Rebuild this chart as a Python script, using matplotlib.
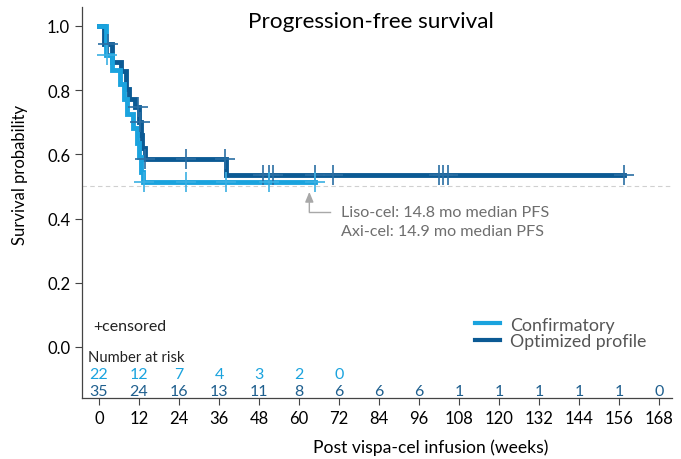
import numpy as np
import matplotlib
matplotlib.use("Agg")
import matplotlib.pyplot as plt

plt.rcParams['font.family'] = ['Lato', 'DejaVu Sans']

# Kaplan-Meier steps (weeks, survival)
conf_t = [0, 2.0, 3.8, 6.3, 7.6, 8.3, 10.3, 11.3, 12.0, 12.6, 13.2, 64.8]
conf_s = [1.0, 0.909, 0.864, 0.818, 0.773, 0.727, 0.682, 0.636, 0.591, 0.545, 0.514, 0.514]
opt_t = [0, 1.5, 3.9, 6.5, 8.0, 9.1, 10.8, 12.0, 12.5, 13.0, 13.8, 38.1, 157.5]
opt_s = [1.0, 0.943, 0.889, 0.861, 0.804, 0.773, 0.747, 0.70, 0.66, 0.62, 0.584, 0.537, 0.537]

# censoring times
conf_cens = [2.4, 13.4, 26.1, 38.1, 51.0, 64.8]
opt_cens = [2.8, 11.8, 12.2, 13.9, 26.1, 37.9, 49.1, 51.0, 52.3, 64.8, 70.1, 102.0, 103.3, 104.7, 157.5]

risk_weeks = [0, 12, 24, 36, 48, 60, 72, 84, 96, 108, 120, 132, 144, 156, 168]
risk_conf = [22, 12, 7, 4, 3, 2, 0]
risk_opt = [35, 24, 16, 13, 11, 8, 6, 6, 6, 1, 1, 1, 1, 1, 0]

light = '#1aa3de'
dark = '#0b5a94'
gray = '#6e6e6e'


def step_at(ts, ss, t):
    i = np.searchsorted(ts, t, side='right') - 1
    return ss[max(i, 0)]


fig = plt.figure(figsize=(6.81, 4.60), dpi=100)
ax = fig.add_axes([0.1204, 0.1326, 0.8664, 0.8500])

ax.axhline(0.5, color='#d0d0d0', lw=0.8, ls=(0, (4, 3)), zorder=1)

ax.step(opt_t, opt_s, where='post', color=dark, lw=3.5, zorder=3, solid_joinstyle='miter')
ax.step(conf_t, conf_s, where='post', color=light, lw=3.5, zorder=4, solid_joinstyle='miter')

ax.plot(opt_cens, [step_at(opt_t, opt_s, t) for t in opt_cens], ls='none', marker='+',
        ms=15, mew=1.2, color='#2a6ea3', zorder=5)
ax.plot(conf_cens, [step_at(conf_t, conf_s, t) for t in conf_cens], ls='none', marker='+',
        ms=15, mew=1.2, color='#3bb0e3', zorder=5)

# median annotation
ax.annotate('', xy=(63.1, 0.483), xytext=(63.1, 0.421),
            arrowprops=dict(arrowstyle='-|>,head_width=0.25,head_length=0.6',
                            color='#a8a8a8', lw=1.0, shrinkA=0, shrinkB=0))
ax.plot([63.1, 69.3], [0.421, 0.421], color='#a8a8a8', lw=1.0)
ax.text(72.6, 0.421, 'Liso-cel: 14.8 mo median PFS', color=gray, fontsize=11.6, va='center')
ax.text(72.6, 0.361, 'Axi-cel: 14.9 mo median PFS', color=gray, fontsize=11.6, va='center')

# number at risk
ax.text(-3.2, -0.031, 'Number at risk', fontsize=10.6, va='center', color='#222222')
for w, n in zip(risk_weeks, risk_conf):
    ax.text(w, -0.083, str(n), color=light, fontsize=11.5, ha='center', va='center')
for w, n in zip(risk_weeks, risk_opt):
    ax.text(w, -0.137, str(n), color='#1f5f8e', fontsize=11.5, ha='center', va='center')

ax.text(-1.8, 0.065, '+censored', fontsize=11.5, va='center', color='#222222')

# legend
ax.plot([], [], color=light, lw=3, label='Confirmatory')
ax.plot([], [], color=dark, lw=3, label='Optimized profile')
handles, labels = ax.get_legend_handles_labels()
leg = fig.legend(handles[-2:], labels[-2:], loc='center left',
                 bbox_to_anchor=(475 / 681, 1 - 334 / 460),
                 frameon=False, fontsize=12.8, handlelength=1.4, handletextpad=0.55,
                 labelspacing=0.05, borderpad=0, borderaxespad=0)
for t in leg.get_texts():
    t.set_color('#555555')

ax.set_xlim(-5.1, 171.9)
ax.set_ylim(-0.159, 1.059)
ax.set_xticks(risk_weeks)
ax.set_yticks([0.0, 0.2, 0.4, 0.6, 0.8, 1.0])
ax.set_yticklabels(['0.0', '0.2', '0.4', '0.6', '0.8', '1.0'])
ax.tick_params(labelsize=12, length=5, width=0.8, color='#444444')
for s in ['top', 'right']:
    ax.spines[s].set_visible(False)
for s in ['left', 'bottom']:
    ax.spines[s].set_color('#444444')
    ax.spines[s].set_linewidth(0.9)

fig.text(20 / 681, 1 - 175 / 460, 'Survival probability', fontsize=12, rotation=90,
         ha='center', va='center')
fig.text(431 / 681, 1 - 448 / 460, 'Post vispa-cel infusion (weeks)', fontsize=12.6,
         ha='center', va='center')

fig.text(371 / 681, 1 - 22 / 460, 'Progression-free survival', fontsize=16.2,
         ha='center', va='center')

fig.savefig('out.png', dpi=100)
